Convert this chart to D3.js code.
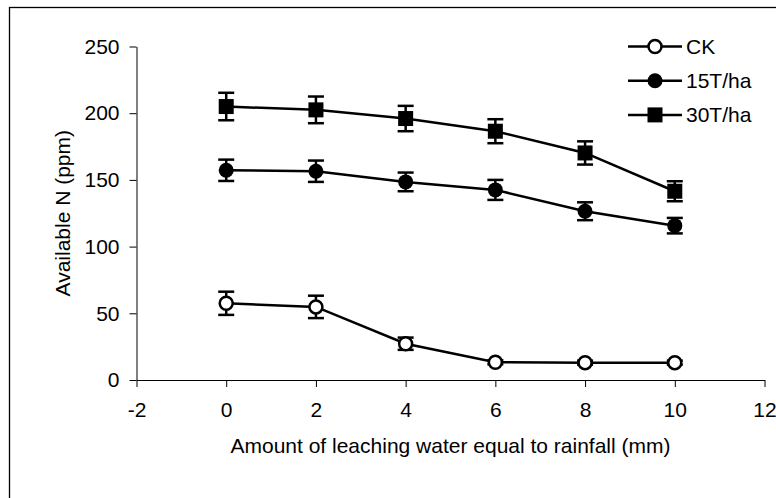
<!DOCTYPE html>
<html>
<head>
<meta charset="utf-8">
<script src="https://cdn.jsdelivr.net/npm/d3@7"></script>
<style>
  body { margin: 0; background: #fff; }
  text { font-family: Arial, "Liberation Sans", sans-serif; fill: #000; }
</style>
</head>
<body>
<div id="chart"></div>
<script>
// leaching water amounts (x) and series
const xValues = [0, 2, 4, 6, 8, 10];
const seriesNames = ["CK", "15T/ha", "30T/ha"];
const ckValues = [57.5, 54.8, 27.2, 13.3, 13.0, 13.0];
const ckErrors = [8.7, 8.4, 4.6, 1.5, 1.5, 1.5];
const t15Values = [157.2, 156.5, 148.5, 142.5, 126.5, 115.7];
const t15Errors = [8.0, 8.0, 7.0, 7.5, 6.7, 5.8];
const t30Values = [205, 202.5, 196, 186.5, 170.2, 141.5];
const t30Errors = [10.3, 10.0, 9.5, 9.0, 8.7, 7.5];
const xTicks = [-2, 0, 2, 4, 6, 8, 10, 12];
const yTicks = [0, 50, 100, 150, 200, 250];

const W = 776, H = 498;
const margin = {top: 46.5, right: 11.5, bottom: 118, left: 136.5};
const width = W - margin.left - margin.right;
const height = H - margin.top - margin.bottom;
const fontSize = 21;

const svg = d3.select('#chart')
  .append('svg')
  .attr('width', W)
  .attr('height', H);

// outer frame (only left/top edges fall inside the picture)
svg.append('rect')
  .attr('x', 9.5).attr('y', 7.5)
  .attr('width', 900).attr('height', 700)
  .attr('fill', 'none').attr('stroke', '#000').attr('stroke-width', 1.3);

const g = svg.append('g')
  .attr('transform', `translate(${margin.left},${margin.top})`);

const x = d3.scaleLinear().domain([-2, 12]).range([0, width]);
const y = d3.scaleLinear().domain([0, 250]).range([height, 0]);

const xAxis = d3.axisBottom(x).tickValues(xTicks).tickFormat(d => String(d))
  .tickSize(7).tickSizeOuter(0).tickPadding(15);
const yAxis = d3.axisLeft(y).tickValues(yTicks).tickFormat(d => String(d))
  .tickSize(7).tickSizeOuter(0).tickPadding(10);

const gx = g.append('g')
  .attr('class', 'x-axis')
  .attr('transform', `translate(0,${height})`)
  .call(xAxis);
const gy = g.append('g')
  .attr('class', 'y-axis')
  .call(yAxis);

[gx, gy].forEach(a => {
  a.selectAll('path, line').attr('stroke', '#000').attr('stroke-width', 1);
  a.selectAll('text').attr('font-size', fontSize).attr('fill', '#000')
    .style('font-family', 'Arial, "Liberation Sans", sans-serif');
});

// axis titles
g.append('text')
  .attr('x', width / 2)
  .attr('y', 406)
  .attr('text-anchor', 'middle')
  .attr('font-size', fontSize)
  .text('Amount of leaching water equal to rainfall (mm)');

g.append('text')
  .attr('transform', `translate(-67,${height / 2}) rotate(-90)`)
  .attr('text-anchor', 'middle')
  .attr('font-size', fontSize)
  .text('Available N (ppm)');

const series = [
  {name: seriesNames[0], values: ckValues, errors: ckErrors, shape: 'circle', fill: '#fff'},
  {name: seriesNames[1], values: t15Values, errors: t15Errors, shape: 'circle', fill: '#000'},
  {name: seriesNames[2], values: t30Values, errors: t30Errors, shape: 'square', fill: '#000'}
];

const line = d3.line()
  .x(d => x(d.x))
  .y(d => y(d.v));

function drawMarker(sel, s, cx, cy) {
  if (s.shape === 'circle') {
    sel.append('circle')
      .attr('cx', cx).attr('cy', cy)
      .attr('r', s.fill === '#fff' ? 6.5 : 7.5)
      .attr('fill', s.fill)
      .attr('stroke', '#000')
      .attr('stroke-width', s.fill === '#fff' ? 2.5 : 0);
  } else {
    sel.append('rect')
      .attr('x', cx - 7.5).attr('y', cy - 7.5)
      .attr('width', 15).attr('height', 15)
      .attr('fill', s.fill);
  }
}

series.forEach(s => {
  const pts = xValues.map((xv, i) => ({x: xv, v: s.values[i], e: s.errors[i]}));

  g.append('path')
    .datum(pts)
    .attr('fill', 'none')
    .attr('stroke', '#000')
    .attr('stroke-width', 2.5)
    .attr('d', line);

  const eb = g.append('g');
  pts.forEach(d => {
    const cx = x(d.x);
    eb.append('line')
      .attr('x1', cx).attr('x2', cx)
      .attr('y1', y(d.v + d.e)).attr('y2', y(d.v - d.e))
      .attr('stroke', '#000').attr('stroke-width', 2.5);
    [d.v + d.e, d.v - d.e].forEach(v => {
      eb.append('line')
        .attr('x1', cx - 8).attr('x2', cx + 8)
        .attr('y1', y(v)).attr('y2', y(v))
        .attr('stroke', '#000').attr('stroke-width', 2.5);
    });
  });

  const mk = g.append('g');
  pts.forEach(d => drawMarker(mk, s, x(d.x), y(d.v)));
});

// legend
const legend = svg.append('g');
series.forEach((s, i) => {
  const ly = 46.5 + i * 34.2;
  legend.append('line')
    .attr('x1', 628).attr('x2', 682)
    .attr('y1', ly).attr('y2', ly)
    .attr('stroke', '#000').attr('stroke-width', 2.5);
  drawMarker(legend, s, 655, ly);
  legend.append('text')
    .attr('x', 686)
    .attr('y', ly + 7.5)
    .attr('font-size', fontSize)
    .text(s.name);
});
</script>
</body>
</html>
